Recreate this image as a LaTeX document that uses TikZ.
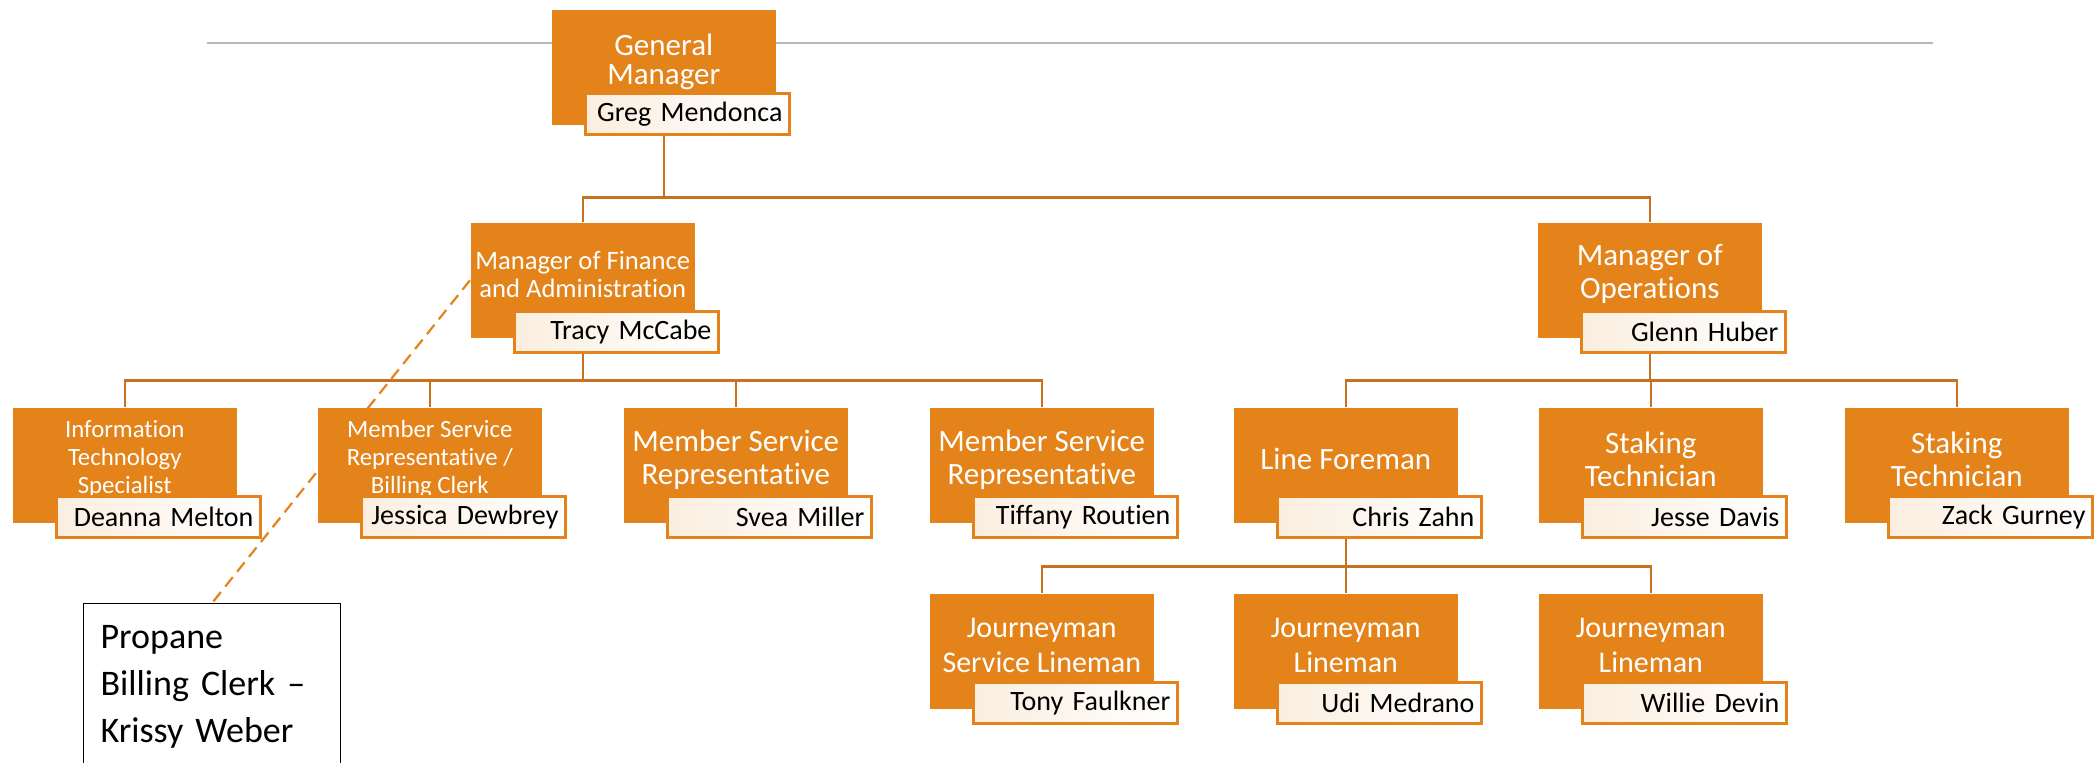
\documentclass[tikz,border=0pt]{standalone}
\usepackage{fontspec}
\setmainfont{Carlito}[Ligatures={NoCommon}]
\usetikzlibrary{positioning,backgrounds}
\definecolor{boxorange}{HTML}{E3831A}
\definecolor{wireorange}{HTML}{C8711E}
\definecolor{cream}{HTML}{FBEEDF}

\begin{document}
\begin{tikzpicture}[x=0.5pt,y=-0.5pt,thick]
\tikzstyle{jobbox}=[fill=boxorange,minimum width=112pt,minimum height=57.5pt,anchor=north west,inner sep=0pt]
\tikzstyle{jobtext}=[text=white,align=center,inner sep=0pt,font=\fontsize{15.5}{16.5}\selectfont]
\tikzstyle{smalltext}=[jobtext,font=\fontsize{12.4}{14}\selectfont]
\tikzstyle{namebox}=[draw=boxorange,line width=1.2pt,left color=cream,right color=white,text=black,minimum width=102pt,minimum height=20.5pt,text width=95pt,align=right,inner xsep=3.5pt,inner ysep=0pt,anchor=south east,font=\fontsize{14}{16}\selectfont]
\tikzstyle{wire}=[draw=wireorange,line width=1.3pt]
\tikzstyle{dashlink}=[draw=boxorange,line width=1.1pt,dash pattern=on 6pt off 3.5pt]

\useasboundingbox (0,0) rectangle (2095,762);
\clip (0,0) rectangle (2095,762);

% general manager
\node[jobbox]   (gm)   at (551,9) {};
\node[jobtext,font=\fontsize{15.5}{14.5}\selectfont] (gm-t) at ([yshift=2.5pt]gm.center) {General\\Manager};
\node[namebox]  (gm-n) at ([xshift=7pt,yshift=-5pt]gm.south east) {Greg Mendonca};

% managers
\node[jobbox]   (mfa)   at (470,222) {};
\node[jobtext,font=\fontsize{13.3}{14}\selectfont] (mfa-t) at ([yshift=3pt]mfa.center) {Manager of Finance\\and Administration};
\node[namebox]  (mfa-n) at ([xshift=12pt,yshift=-7.5pt]mfa.south east) {Tracy McCabe};

\node[jobbox]   (mo)   at (1537,222) {};
\node[jobtext]  (mo-t) at ([yshift=3pt]mo.center) {Manager of\\Operations};
\node[namebox]  (mo-n) at ([xshift=12pt,yshift=-7.5pt]mo.south east) {Glenn Huber};

% staff
\node[jobbox]   (it)   at (12,407) {};
\node[smalltext] (it-t) at ([yshift=3pt]it.center) {Information\\Technology\\Specialist};
\node[namebox]  (it-n) at ([xshift=12pt,yshift=-7.5pt]it.south east) {Deanna Melton};

\node[jobbox]   (msr1)   at (317,407) {};
\node[smalltext] (msr1-t) at ([yshift=3pt]msr1.center) {Member Service\\Representative /\\Billing Clerk};
\node[namebox]  (msr1-n) at ([xshift=12pt,yshift=-7.5pt]msr1.south east) {Jessica Dewbrey};

\node[jobbox]   (msr2)   at (623,407) {};
\node[jobtext]  (msr2-t) at ([yshift=3pt]msr2.center) {Member Service\\Representative};
\node[namebox]  (msr2-n) at ([xshift=12pt,yshift=-7.5pt]msr2.south east) {Svea Miller};

\node[jobbox]   (msr3)   at (929,407) {};
\node[jobtext]  (msr3-t) at ([yshift=3pt]msr3.center) {Member Service\\Representative};
\node[namebox]  (msr3-n) at ([xshift=12pt,yshift=-7.5pt]msr3.south east) {Tiffany Routien};

\node[jobbox]   (lf)   at (1233,407) {};
\node[jobtext]  (lf-t) at ([yshift=3pt]lf.center) {Line Foreman};
\node[namebox]  (lf-n) at ([xshift=12pt,yshift=-7.5pt]lf.south east) {Chris Zahn};

\node[jobbox]   (st1)   at (1538,407) {};
\node[jobtext]  (st1-t) at ([yshift=3pt]st1.center) {Staking\\Technician};
\node[namebox]  (st1-n) at ([xshift=12pt,yshift=-7.5pt]st1.south east) {Jesse Davis};

\node[jobbox]   (st2)   at (1844,407) {};
\node[jobtext]  (st2-t) at ([yshift=3pt]st2.center) {Staking\\Technician};
\node[namebox]  (st2-n) at ([xshift=12pt,yshift=-7.5pt]st2.south east) {Zack Gurney};

% linemen
\node[jobbox]   (jm1)   at (929,593) {};
\node[jobtext,font=\fontsize{15}{17.5}\selectfont] (jm1-t) at ([yshift=3pt]jm1.center) {Journeyman\\Service Lineman};
\node[namebox]  (jm1-n) at ([xshift=12pt,yshift=-7.5pt]jm1.south east) {Tony Faulkner};

\node[jobbox]   (jm2)   at (1233,593) {};
\node[jobtext,font=\fontsize{15}{17.5}\selectfont] (jm2-t) at ([yshift=3pt]jm2.center) {Journeyman\\Lineman};
\node[namebox]  (jm2-n) at ([xshift=12pt,yshift=-7.5pt]jm2.south east) {Udi Medrano};

\node[jobbox]   (jm3)   at (1538,593) {};
\node[jobtext,font=\fontsize{15}{17.5}\selectfont] (jm3-t) at ([yshift=3pt]jm3.center) {Journeyman\\Lineman};
\node[namebox]  (jm3-n) at ([xshift=12pt,yshift=-7.5pt]jm3.south east) {Willie Devin};

% propane clerk
\node[draw=black,line width=0.6pt,fill=white,anchor=north west,text width=111.5pt,align=left,inner xsep=8.5pt,inner ysep=11pt,font=\fontsize{18}{23.5}\selectfont] (prop) at (83,603) {Propane\\Billing Clerk~–\\Krissy Weber};

\begin{scope}[on background layer]
\draw[gray!55,line width=0.7pt] (207,43) -- (1933,43);
\draw[wire] (gm.south) -- ++(0,72) coordinate (bus1) -| (mfa.north);
\draw[wire] (bus1) -| (mo.north);
\draw[wire] (mfa.south) -- ++(0,42) coordinate (bus2) -| (it.north);
\draw[wire] (bus2) -| (msr1.north);
\draw[wire] (bus2) -| (msr2.north);
\draw[wire] (bus2) -| (msr3.north);
\draw[wire] (mo.south) -- ++(0,42) coordinate (bus3) -| (lf.north);
\draw[wire] (bus3) -| (st1.north);
\draw[wire] (bus3) -| (st2.north);
\draw[wire] (lf.south) -- ++(0,43) coordinate (bus4) -| (jm1.north);
\draw[wire] (bus4) -| (jm2.north);
\draw[wire] (bus4) -| (jm3.north);
\draw[dashlink] (mfa.west) -- (prop.north);
\end{scope}
\end{tikzpicture}
\end{document}
